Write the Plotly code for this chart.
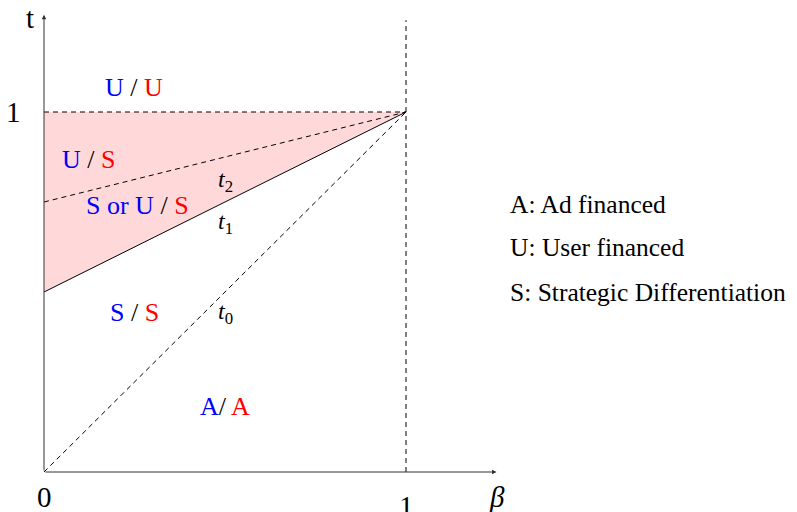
import plotly.graph_objects as go

# ---- data ----
beta = [0, 1]
t0_vals = [0.0, 1.0]
t1_vals = [0.5, 1.0]
t2_vals = [0.75, 1.0]
top_vals = [1.0, 1.0]
vline_x = [1, 1]
vline_y = [0, 1.255]
x_axis_end = 1.25
y_axis_end = 1.27

BLUE = "#0000ff"
RED = "#ff0000"
FONT = "Liberation Serif"
DASH = "5px,4px"

fig = go.Figure()

# pink region between t1 and t=1
fig.add_trace(go.Scatter(x=beta, y=t1_vals, mode="lines",
                         line=dict(color="black", width=1), hoverinfo="skip"))
fig.add_trace(go.Scatter(x=beta, y=top_vals, mode="lines", fill="tonexty",
                         fillcolor="rgba(255,0,0,0.15)",
                         line=dict(color="black", width=1, dash=DASH), hoverinfo="skip"))
fig.add_trace(go.Scatter(x=beta, y=t2_vals, mode="lines",
                         line=dict(color="black", width=1, dash=DASH), hoverinfo="skip"))
fig.add_trace(go.Scatter(x=beta, y=t0_vals, mode="lines",
                         line=dict(color="black", width=1, dash=DASH), hoverinfo="skip"))
fig.add_trace(go.Scatter(x=vline_x, y=vline_y, mode="lines",
                         line=dict(color="black", width=1, dash=DASH), hoverinfo="skip"))

# axes with arrows
fig.add_annotation(x=x_axis_end, y=0, ax=0, ay=0, xref="x", yref="y", axref="x", ayref="y",
                   showarrow=True, arrowhead=2, arrowsize=0.9, arrowwidth=1,
                   arrowcolor="#333333", text="")
fig.add_annotation(x=0, y=y_axis_end, ax=0, ay=0, xref="x", yref="y", axref="x", ayref="y",
                   showarrow=True, arrowhead=2, arrowsize=0.9, arrowwidth=1,
                   arrowcolor="#333333", text="")

def lab(x, y, text, size=26, xanchor="center"):
    fig.add_annotation(x=x, y=y, text=text, showarrow=False, xref="x", yref="y",
                       xanchor=xanchor, yanchor="middle",
                       font=dict(family=FONT, size=size, color="black"))

def pair(a, b, sep=" / "):
    return f'<span style="color:{BLUE}">{a}</span>{sep}<span style="color:{RED}">{b}</span>'

# axis labels
lab(-0.039, 1.262, "t", size=29)
lab(-0.083, 1.0, "1", size=29)
lab(0.0, -0.069, "0", size=29)
lab(1.0, -0.095, "1", size=29)
lab(1.251, -0.069, "<i>β</i>", size=29)

# region labels
lab(0.249, 1.069, pair("U", "U"))
lab(0.122, 0.867, pair("U", "S"))
lab(0.257, 0.739, pair("S or U", "S"))
lab(0.249, 0.442, pair("S", "S"))
lab(0.500, 0.183, pair("A", "A", sep="/ "))

# curve labels
lab(0.50, 0.808, "<i>t</i><sub>2</sub>", size=24)
lab(0.50, 0.691, "<i>t</i><sub>1</sub>", size=24)
lab(0.50, 0.441, "<i>t</i><sub>0</sub>", size=24)

# key
lab(1.281, 0.744, "A: Ad financed", size=25.5, xanchor="left")
lab(1.281, 0.625, "U: User financed", size=25.5, xanchor="left")
lab(1.281, 0.500, "S: Strategic Differentiation", size=25.5, xanchor="left")

W, H = 797, 512
OX, OY = 44, 472  # origin in figure pixels
fig.update_layout(
    width=W, height=H,
    margin=dict(l=0, r=0, t=0, b=0),
    plot_bgcolor="white", paper_bgcolor="white",
    showlegend=False,
    xaxis=dict(range=[-OX/362, (W-OX)/362], visible=False, fixedrange=True),
    yaxis=dict(range=[-(H-OY)/360, OY/360], visible=False, fixedrange=True),
)

fig.write_html("out.html",
               config={"displayModeBar": False, "staticPlot": True},
               post_script="document.body.style.margin='0px';document.body.style.overflow='hidden';")
